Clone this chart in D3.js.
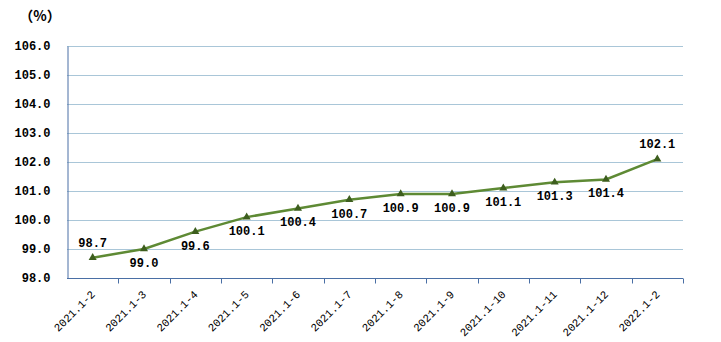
<!DOCTYPE html>
<html>
<head>
<meta charset="utf-8">
<script src="https://cdn.jsdelivr.net/npm/d3@7"></script>
<style>
  html, body { margin: 0; padding: 0; background: #fff; }
  svg { display: block; }
</style>
</head>
<body>
<svg id="chart" width="721" height="342"></svg>
<script>
// Monthly cumulative index (%), same period last year = 100
const categories = ["2021.1-2", "2021.1-3", "2021.1-4", "2021.1-5", "2021.1-6", "2021.1-7",
                    "2021.1-8", "2021.1-9", "2021.1-10", "2021.1-11", "2021.1-12", "2022.1-2"];
const values = [98.7, 99.0, 99.6, 100.1, 100.4, 100.7, 100.9, 100.9, 101.1, 101.3, 101.4, 102.1];
const labelAbove = [true, false, false, false, false, false, false, false, false, false, false, true];
const yTicks = [98, 99, 100, 101, 102, 103, 104, 105, 106];
const unitLabel = "（%）";

(function () {
const svg = d3.select("#chart");
const plotLeft = 67, plotRight = 683, plotTop = 46, plotBottom = 278;
const monoFont = "'Liberation Mono', 'DejaVu Sans Mono', monospace";

const x = d3.scaleBand().domain(categories).range([plotLeft, plotRight]);
const y = d3.scaleLinear().domain([98, 106]).range([plotBottom, plotTop]);

// horizontal gridlines
svg.append("g")
  .selectAll("line")
  .data(yTicks.filter(t => t !== 98))
  .join("line")
  .attr("x1", plotLeft).attr("x2", plotRight)
  .attr("y1", d => y(d) + 0.5).attr("y2", d => y(d) + 0.5)
  .attr("stroke", "#a9c6d8").attr("stroke-width", 1);

// y axis
const yAxis = svg.append("g")
  .attr("transform", `translate(${plotLeft + 0.5},0)`)
  .call(d3.axisLeft(y).tickValues(yTicks).tickFormat(d3.format(".1f")).tickSize(0).tickPadding(17));
yAxis.select(".domain").attr("stroke", "#4a6fa5");
yAxis.selectAll("text")
  .attr("font-family", monoFont).attr("font-size", 12).attr("font-weight", "bold")
  .attr("fill", "#000");

// x axis with ticks on band boundaries
const xAxisG = svg.append("g").attr("transform", `translate(0,${plotBottom + 0.5})`);
xAxisG.append("line")
  .attr("x1", plotLeft).attr("x2", plotRight)
  .attr("stroke", "#4a6fa5").attr("stroke-width", 1);
const boundaries = categories.map(c => x(c)).concat([plotRight]).slice(1);
xAxisG.selectAll("line.tick")
  .data(boundaries)
  .join("line")
  .attr("class", "tick")
  .attr("x1", d => Math.round(d) + 0.5).attr("x2", d => Math.round(d) + 0.5)
  .attr("y1", 0).attr("y2", 5)
  .attr("stroke", "#4a6fa5");

xAxisG.selectAll("text")
  .data(categories)
  .join("text")
  .attr("transform", d => `translate(${x(d) + x.bandwidth() / 2 + 3},${16.5}) rotate(-45)`)
  .attr("text-anchor", "end")
  .attr("font-family", monoFont).attr("font-size", 11)
  .attr("fill", "#000")
  .text(d => d);

// data line
const cx = d => x(d) + x.bandwidth() / 2;
const line = d3.line()
  .x((d, i) => cx(categories[i]))
  .y(d => y(d));
svg.append("path")
  .datum(values)
  .attr("d", line)
  .attr("fill", "none")
  .attr("stroke", "#5e8a34")
  .attr("stroke-width", 2.5);

// triangle markers
const tri = d3.symbol().type(d3.symbolTriangle).size(28);
svg.append("g")
  .selectAll("path")
  .data(values)
  .join("path")
  .attr("d", tri)
  .attr("transform", (d, i) => `translate(${cx(categories[i])},${y(d)})`)
  .attr("fill", "#3d5e1e");

// value labels
svg.append("g")
  .selectAll("text")
  .data(values)
  .join("text")
  .attr("x", (d, i) => cx(categories[i]))
  .attr("y", (d, i) => labelAbove[i] ? y(d) - 11 : y(d) + 18)
  .attr("text-anchor", "middle")
  .attr("font-family", monoFont).attr("font-size", 12).attr("font-weight", "bold")
  .attr("fill", "#000")
  .text(d => d.toFixed(1));

// unit label
svg.append("text")
  .attr("x", 40).attr("y", 21)
  .attr("text-anchor", "middle")
  .attr("font-family", "'Noto Sans CJK SC', sans-serif")
  .attr("font-size", 14).attr("font-weight", "bold")
  .attr("fill", "#000")
  .text(unitLabel);
})();
</script>
</body>
</html>
